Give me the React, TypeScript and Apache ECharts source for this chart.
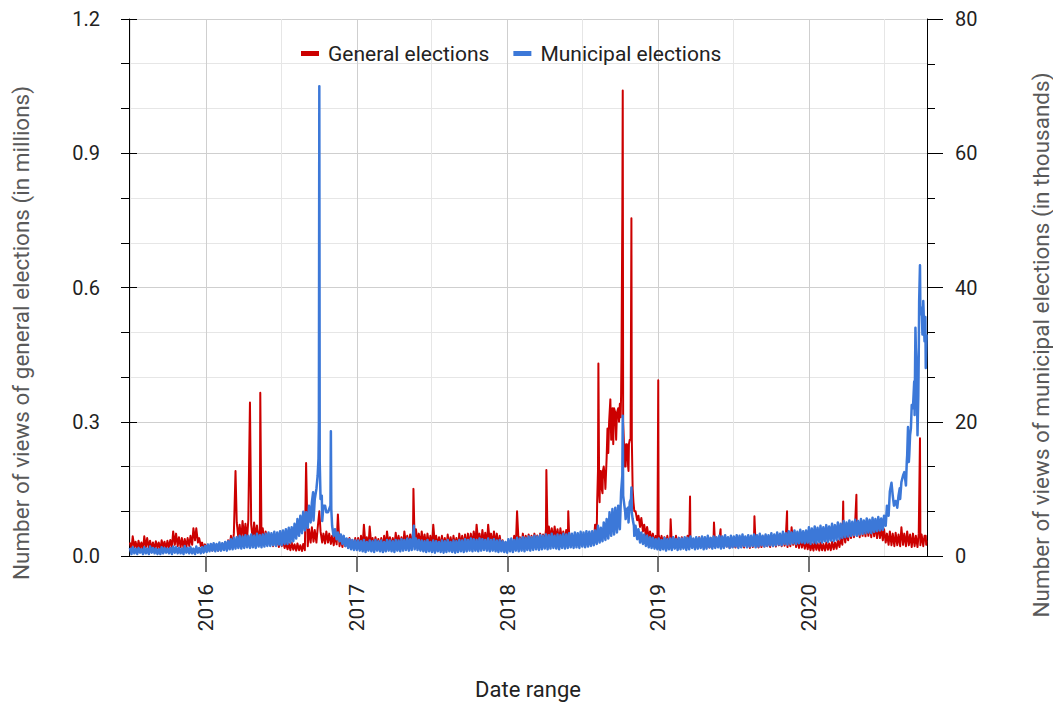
import React, { useEffect, useRef } from 'react';
import * as echarts from 'echarts';

const DAY = 86400000;
const ts = (s: string) => {
  const [y, m, d] = s.split('-').map(Number);
  return Date.UTC(y, m - 1, d);
};

// Weekly band readings: the upper edge is read on Wednesdays, the lower edge on the following Sunday.
const WEEKLY_START = '2015-07-01';
const LOW_OFFSET_DAYS = 4;
const AXIS_MIN = '2015-06-29';
const AXIS_MAX = '2020-10-13';
const YEAR_TICKS = ['2016-01-01', '2017-01-01', '2018-01-01', '2019-01-01', '2020-01-01'];
const HALF_YEAR_LINES = ['2015-07-01', '2016-07-01', '2017-07-01', '2018-07-01', '2019-07-01', '2020-07-01'];

// General elections (millions of views): upper edge of the daily band, weekly
const generalTop2015 = [0.03, 0.044, 0.032, 0.034, 0.03, 0.044, 0.04, 0.034, 0.03, 0.033, 0.03, 0.035, 0.032, 0.034, 0.036, 0.055, 0.05, 0.042, 0.04, 0.038, 0.04, 0.045, 0.062, 0.062, 0.04, 0.03, 0.026];
const generalTop2016 = [0.025, 0.022, 0.026, 0.024, 0.022, 0.028, 0.03, 0.035, 0.045, 0.05, 0.075, 0.07, 0.078, 0.072, 0.08, 0.07, 0.075, 0.068, 0.06, 0.062, 0.055, 0.05, 0.045, 0.048, 0.04, 0.042, 0.035, 0.03, 0.028, 0.03, 0.026, 0.028, 0.024, 0.027, 0.045, 0.06, 0.064, 0.058, 0.062, 0.055, 0.05, 0.055, 0.05, 0.045, 0.048, 0.042, 0.04, 0.044, 0.038, 0.04, 0.036, 0.04];
const generalTop2017 = [0.04, 0.045, 0.07, 0.042, 0.066, 0.04, 0.042, 0.038, 0.04, 0.045, 0.055, 0.042, 0.04, 0.052, 0.045, 0.042, 0.055, 0.045, 0.048, 0.055, 0.06, 0.05, 0.055, 0.048, 0.05, 0.045, 0.07, 0.045, 0.042, 0.045, 0.04, 0.048, 0.042, 0.045, 0.04, 0.05, 0.045, 0.048, 0.05, 0.05, 0.055, 0.07, 0.05, 0.058, 0.052, 0.07, 0.05, 0.055, 0.05, 0.045, 0.035, 0.03];
const generalTop2018 = [0.028, 0.03, 0.045, 0.048, 0.042, 0.05, 0.045, 0.048, 0.045, 0.05, 0.046, 0.05, 0.048, 0.06, 0.066, 0.062, 0.066, 0.06, 0.062, 0.055, 0.058, 0.052, 0.048, 0.045, 0.042, 0.045, 0.04, 0.044, 0.042, 0.05, 0.07, 0.19, 0.19, 0.2, 0.22, 0.3, 0.33, 0.32, 0.33, 0.36, 0.25, 0.25, 0.26, 0.15, 0.11, 0.09, 0.085, 0.07, 0.065, 0.055, 0.05, 0.045];
const generalTop2019 = [0.048, 0.045, 0.042, 0.045, 0.04, 0.042, 0.045, 0.04, 0.042, 0.04, 0.045, 0.04, 0.038, 0.04, 0.042, 0.038, 0.04, 0.036, 0.04, 0.038, 0.04, 0.036, 0.04, 0.038, 0.035, 0.038, 0.036, 0.04, 0.042, 0.038, 0.04, 0.036, 0.042, 0.04, 0.038, 0.042, 0.04, 0.045, 0.04, 0.045, 0.042, 0.05, 0.045, 0.048, 0.042, 0.05, 0.064, 0.045, 0.04, 0.042, 0.036, 0.035];
const generalTop2020 = [0.03, 0.028, 0.032, 0.028, 0.03, 0.027, 0.03, 0.028, 0.032, 0.03, 0.035, 0.04, 0.05, 0.055, 0.065, 0.07, 0.075, 0.072, 0.08, 0.075, 0.078, 0.072, 0.075, 0.07, 0.072, 0.065, 0.06, 0.05, 0.055, 0.05, 0.052, 0.048, 0.064, 0.05, 0.055, 0.048, 0.05, 0.045, 0.05, 0.048, 0.045];

// General elections (millions of views): lower edge of the daily band, weekly
const generalLow2015 = [0.016, 0.02, 0.015, 0.018, 0.014, 0.02, 0.018, 0.016, 0.015, 0.018, 0.015, 0.02, 0.016, 0.018, 0.02, 0.025, 0.022, 0.02, 0.018, 0.02, 0.022, 0.025, 0.035, 0.03, 0.022, 0.016, 0.014];
const generalLow2016 = [0.013, 0.012, 0.014, 0.012, 0.013, 0.015, 0.016, 0.02, 0.025, 0.03, 0.04, 0.035, 0.042, 0.038, 0.04, 0.035, 0.04, 0.032, 0.03, 0.028, 0.03, 0.025, 0.022, 0.024, 0.02, 0.022, 0.018, 0.015, 0.013, 0.014, 0.012, 0.013, 0.011, 0.013, 0.022, 0.03, 0.032, 0.03, 0.034, 0.03, 0.028, 0.03, 0.027, 0.024, 0.026, 0.022, 0.02, 0.022, 0.018, 0.02, 0.017, 0.02];
const generalLow2017 = [0.018, 0.02, 0.022, 0.02, 0.024, 0.019, 0.021, 0.018, 0.02, 0.022, 0.024, 0.02, 0.021, 0.024, 0.022, 0.02, 0.025, 0.022, 0.024, 0.026, 0.028, 0.024, 0.025, 0.022, 0.023, 0.02, 0.026, 0.022, 0.02, 0.022, 0.019, 0.021, 0.02, 0.022, 0.019, 0.023, 0.021, 0.022, 0.024, 0.025, 0.026, 0.03, 0.025, 0.028, 0.025, 0.03, 0.024, 0.026, 0.022, 0.02, 0.018, 0.016];
const generalLow2018 = [0.016, 0.018, 0.022, 0.025, 0.022, 0.025, 0.023, 0.025, 0.024, 0.026, 0.025, 0.027, 0.028, 0.035, 0.038, 0.036, 0.035, 0.032, 0.033, 0.03, 0.03, 0.028, 0.027, 0.026, 0.025, 0.026, 0.024, 0.026, 0.025, 0.03, 0.05, 0.12, 0.14, 0.15, 0.17, 0.22, 0.24, 0.25, 0.26, 0.3, 0.2, 0.19, 0.2, 0.1, 0.08, 0.065, 0.055, 0.045, 0.04, 0.035, 0.03, 0.028];
const generalLow2019 = [0.028, 0.026, 0.025, 0.024, 0.022, 0.024, 0.025, 0.022, 0.023, 0.022, 0.024, 0.021, 0.02, 0.022, 0.021, 0.02, 0.022, 0.019, 0.021, 0.02, 0.021, 0.019, 0.02, 0.021, 0.018, 0.02, 0.019, 0.021, 0.02, 0.019, 0.021, 0.018, 0.02, 0.021, 0.019, 0.02, 0.021, 0.022, 0.02, 0.022, 0.021, 0.024, 0.022, 0.023, 0.02, 0.022, 0.025, 0.02, 0.018, 0.019, 0.016, 0.015];
const generalLow2020 = [0.013, 0.012, 0.014, 0.012, 0.013, 0.012, 0.014, 0.013, 0.015, 0.016, 0.02, 0.025, 0.03, 0.035, 0.04, 0.042, 0.045, 0.042, 0.045, 0.044, 0.045, 0.042, 0.044, 0.04, 0.04, 0.035, 0.03, 0.025, 0.024, 0.022, 0.024, 0.022, 0.025, 0.022, 0.024, 0.02, 0.022, 0.02, 0.024, 0.022, 0.025];

// General elections, daily peaks (millions of views)
const generalPeaks: [string, number][] = [
  ['2016-03-13', 0.19], ['2016-04-17', 0.343], ['2016-05-12', 0.365], ['2016-08-31', 0.208],
  ['2016-10-02', 0.1], ['2016-11-16', 0.093], ['2017-05-18', 0.15], ['2018-01-24', 0.1],
  ['2018-04-05', 0.192], ['2018-05-28', 0.1],
  ['2018-08-03', 0.07], ['2018-08-06', 0.12], ['2018-08-09', 0.43], ['2018-08-11', 0.14],
  ['2018-08-13', 0.19], ['2018-08-17', 0.15], ['2018-08-20', 0.19], ['2018-08-25', 0.17],
  ['2018-08-31', 0.285], ['2018-09-02', 0.23], ['2018-09-04', 0.3], ['2018-09-07', 0.35],
  ['2018-09-09', 0.26], ['2018-09-11', 0.32], ['2018-09-14', 0.25], ['2018-09-16', 0.33],
  ['2018-09-21', 0.26], ['2018-09-23', 0.32], ['2018-09-28', 0.3], ['2018-09-30', 0.34],
  ['2018-10-02', 0.31], ['2018-10-04', 0.45], ['2018-10-06', 0.77], ['2018-10-07', 1.04],
  ['2018-10-08', 0.3], ['2018-10-12', 0.2], ['2018-10-15', 0.25], ['2018-10-20', 0.2],
  ['2018-10-22', 0.25], ['2018-10-26', 0.26], ['2018-10-28', 0.755], ['2018-10-29', 0.26],
  ['2018-11-02', 0.12], ['2018-11-07', 0.1],
  ['2019-01-01', 0.393], ['2019-01-31', 0.082], ['2019-03-19', 0.133], ['2019-05-16', 0.075],
  ['2019-06-01', 0.06], ['2019-08-22', 0.089], ['2019-11-09', 0.1], ['2020-03-24', 0.122],
  ['2020-04-25', 0.137], ['2020-09-26', 0.263], ['2020-10-10', 0.045], ['2020-10-12', 0.035],
];

// Municipal elections (thousands of views): upper edge of the daily band, weekly
const municipalTop2015 = [1.2, 1.3, 1.1, 1.2, 1.0, 1.3, 1.1, 1.4, 1.2, 1.1, 1.0, 1.3, 1.2, 1.1, 1.2, 1.4, 1.3, 1.2, 1.1, 1.5, 1.2, 1.3, 1.1, 1.4, 1.2, 1.3, 1.5];
const municipalTop2016 = [1.7, 1.8, 1.9, 1.8, 2.0, 1.9, 2.1, 2.2, 2.5, 2.7, 2.8, 3.0, 2.9, 3.1, 3.0, 3.2, 3.0, 3.3, 3.1, 3.2, 3.3, 3.5, 3.4, 3.6, 3.5, 3.7, 3.8, 4.0, 4.2, 4.3, 4.8, 5.5, 6.0, 6.6, 6.5, 7.5, 8.0, 8.5, 12.0, 8.5, 7.5, 6.5, 7.0, 4.5, 4.0, 3.5, 3.2, 3.0, 2.6, 2.5, 2.4, 2.3];
const municipalTop2017 = [2.3, 2.2, 2.4, 2.1, 2.3, 2.2, 2.4, 2.2, 2.3, 2.1, 2.4, 2.3, 2.2, 2.4, 2.3, 2.5, 2.4, 2.6, 2.5, 3.0, 2.6, 2.4, 2.3, 2.2, 2.4, 2.1, 2.3, 2.2, 2.1, 2.3, 2.2, 2.4, 2.1, 2.3, 2.2, 2.4, 2.3, 2.5, 2.4, 2.6, 2.5, 2.4, 2.6, 2.5, 2.4, 2.6, 2.4, 2.5, 2.3, 2.4, 2.2, 2.1];
const municipalTop2018 = [2.5, 2.6, 2.4, 2.7, 2.6, 2.8, 2.7, 2.9, 2.8, 3.0, 2.9, 3.1, 3.0, 3.2, 3.1, 3.3, 3.0, 3.2, 3.1, 3.3, 3.2, 3.4, 3.3, 3.5, 3.4, 3.6, 3.5, 3.7, 3.6, 3.7, 3.8, 4.5, 4.2, 5.0, 5.5, 6.5, 7.0, 7.2, 7.5, 9.5, 8.0, 7.0, 8.0, 5.5, 4.5, 4.0, 3.5, 3.2, 3.0, 2.8, 2.7, 2.5];
const municipalTop2019 = [2.6, 2.4, 2.7, 2.5, 2.6, 2.8, 2.5, 2.7, 2.6, 2.8, 2.7, 2.9, 2.6, 2.8, 2.7, 2.9, 2.8, 3.0, 2.7, 2.9, 2.8, 3.0, 2.9, 3.1, 2.8, 3.0, 2.9, 3.1, 3.0, 3.2, 2.9, 3.1, 3.0, 3.2, 3.1, 3.3, 3.0, 3.2, 3.1, 3.4, 3.2, 3.5, 3.3, 3.6, 3.4, 3.7, 3.5, 3.8, 3.6, 3.9, 3.7, 3.8];
const municipalTop2020 = [4.3, 4.1, 4.4, 4.2, 4.5, 4.3, 4.6, 4.4, 4.8, 4.6, 5.0, 4.8, 5.2, 5.0, 5.3, 5.1, 5.4, 5.2, 5.5, 5.3, 5.6, 5.4, 5.7, 5.5, 5.8, 5.6, 6.0, 7.5, 9.6, 9.0, 8.2, 9.0, 11.0, 12.5, 15.0, 18, 22, 31, 30, 37, 32];

// Municipal elections (thousands of views): lower edge of the daily band, weekly
const municipalLow2015 = [0.3, 0.4, 0.3, 0.5, 0.3, 0.4, 0.3, 0.5, 0.4, 0.3, 0.3, 0.4, 0.5, 0.4, 0.3, 0.5, 0.4, 0.4, 0.3, 0.5, 0.4, 0.4, 0.3, 0.5, 0.4, 0.5, 0.6];
const municipalLow2016 = [0.7, 0.8, 0.7, 0.8, 0.8, 0.9, 0.8, 1.0, 1.0, 1.1, 1.2, 1.1, 1.2, 1.3, 1.2, 1.3, 1.2, 1.4, 1.3, 1.4, 1.5, 1.5, 1.6, 1.5, 1.7, 1.6, 1.8, 1.8, 2.0, 2.2, 2.6, 3.0, 3.4, 3.8, 4.2, 5.0, 5.3, 5.6, 6.0, 5.2, 4.8, 4.5, 4.3, 3.0, 2.5, 2.2, 1.8, 1.5, 1.2, 1.0, 0.9, 0.9];
const municipalLow2017 = [0.8, 0.7, 0.6, 0.8, 0.7, 0.6, 0.8, 0.7, 0.6, 0.7, 0.8, 0.7, 0.6, 0.8, 0.7, 0.8, 0.9, 0.8, 0.9, 1.0, 0.9, 0.8, 0.7, 0.6, 0.7, 0.6, 0.5, 0.7, 0.6, 0.5, 0.6, 0.7, 0.6, 0.5, 0.6, 0.7, 0.6, 0.7, 0.8, 0.7, 0.8, 0.7, 0.8, 0.9, 0.8, 0.7, 0.8, 0.7, 0.6, 0.7, 0.6, 0.5];
const municipalLow2018 = [0.7, 0.6, 0.8, 0.7, 0.8, 0.7, 0.9, 0.8, 0.9, 1.0, 0.9, 1.0, 1.1, 1.0, 1.1, 1.2, 1.1, 1.0, 1.2, 1.1, 1.2, 1.3, 1.2, 1.3, 1.2, 1.4, 1.3, 1.4, 1.5, 1.6, 1.8, 2.0, 2.2, 2.4, 2.6, 3.0, 3.2, 3.5, 4.0, 5.5, 5.5, 5.0, 5.5, 3.0, 2.5, 2.0, 1.8, 1.5, 1.3, 1.2, 1.1, 1.0];
const municipalLow2019 = [0.9, 1.0, 0.8, 1.0, 0.9, 1.1, 0.9, 1.0, 1.1, 0.9, 1.0, 1.2, 1.0, 1.1, 1.2, 1.0, 1.1, 1.3, 1.1, 1.2, 1.3, 1.1, 1.2, 1.4, 1.2, 1.3, 1.4, 1.2, 1.3, 1.5, 1.3, 1.4, 1.5, 1.3, 1.4, 1.6, 1.4, 1.5, 1.6, 1.5, 1.6, 1.7, 1.6, 1.8, 1.7, 1.8, 1.9, 1.8, 1.9, 2.0, 1.9, 2.0];
const municipalLow2020 = [1.8, 2.0, 1.9, 2.1, 2.0, 2.2, 2.1, 2.3, 2.2, 2.4, 2.5, 2.7, 2.8, 2.9, 3.0, 3.1, 3.0, 3.2, 3.3, 3.4, 3.5, 3.4, 3.6, 3.7, 3.8, 3.9, 4.5, 6.0, 8.5, 7.5, 7.0, 8.5, 10, 10.5, 14, 17, 21, 18, 36, 31, 28];

// Municipal elections, daily peaks (thousands of views)
const municipalPeaks: [string, number][] = [
  ['2016-09-17', 9.5], ['2016-09-25', 10], ['2016-09-30', 14.5], ['2016-10-01', 20],
  ['2016-10-02', 70], ['2016-10-03', 14], ['2016-10-08', 9], ['2016-10-16', 7.5],
  ['2016-10-23', 6.5], ['2016-10-29', 7.5], ['2016-10-30', 18.6], ['2016-10-31', 7],
  ['2016-11-05', 3.2], ['2017-05-19', 4.5],
  ['2018-10-04', 9.5], ['2018-10-06', 12], ['2018-10-07', 20.9], ['2018-10-08', 9],
  ['2018-10-13', 6.5], ['2018-10-20', 7.2], ['2018-10-27', 8.5], ['2018-10-28', 10.2],
  ['2018-10-29', 6.5], ['2018-11-03', 4.5],
  ['2020-07-19', 10.9], ['2020-07-25', 7.5], ['2020-08-02', 7.2], ['2020-08-08', 10.1],
  ['2020-08-16', 12], ['2020-08-22', 11], ['2020-08-25', 14], ['2020-08-28', 19.2],
  ['2020-08-31', 15], ['2020-09-04', 19], ['2020-09-06', 22.5], ['2020-09-12', 26],
  ['2020-09-15', 34], ['2020-09-18', 28], ['2020-09-20', 18], ['2020-09-22', 24],
  ['2020-09-24', 38], ['2020-09-26', 43.3], ['2020-09-28', 36], ['2020-10-02', 33],
  ['2020-10-04', 38], ['2020-10-09', 35.6], ['2020-10-10', 28], ['2020-10-12', 33],
];

const generalTop = [...generalTop2015, ...generalTop2016, ...generalTop2017, ...generalTop2018, ...generalTop2019, ...generalTop2020];
const generalLow = [...generalLow2015, ...generalLow2016, ...generalLow2017, ...generalLow2018, ...generalLow2019, ...generalLow2020];
const municipalTop = [...municipalTop2015, ...municipalTop2016, ...municipalTop2017, ...municipalTop2018, ...municipalTop2019, ...municipalTop2020];
const municipalLow = [...municipalLow2015, ...municipalLow2016, ...municipalLow2017, ...municipalLow2018, ...municipalLow2019, ...municipalLow2020];

const build = (top: number[], low: number[], peaks: [string, number][]) => {
  const t0 = ts(WEEKLY_START);
  const peakPts: [number, number][] = peaks.map(([d, v]) => [ts(d), v]);
  const peakSet = new Set(peakPts.map((p) => p[0]));
  const pts: [number, number][] = [];
  top.forEach((v, i) => pts.push([t0 + i * 7 * DAY, v]));
  low.forEach((v, i) => pts.push([t0 + (i * 7 + LOW_OFFSET_DAYS) * DAY, v]));
  const kept = pts.filter((p) => !peakSet.has(p[0]));
  return kept.concat(peakPts).sort((a, b) => a[0] - b[0]);
};

const FONT = 'Roboto, "Noto Sans", sans-serif';

export default function App() {
  const ref = useRef<HTMLDivElement>(null);
  useEffect(() => {
    if (!ref.current) return;
    const chart = echarts.init(ref.current, undefined, { renderer: 'svg' });
    const years = YEAR_TICKS.map(ts);
    const halves = HALF_YEAR_LINES.map(ts);
    chart.setOption({
      animation: false,
      textStyle: { fontFamily: FONT },
      grid: { left: 129, right: 126, top: 19, bottom: 143, containLabel: false },
      legend: {
        left: 296,
        top: 38,
        icon: 'rect',
        itemWidth: 18,
        itemHeight: 5,
        itemGap: 24,
        textStyle: { fontSize: 21, color: '#222', fontFamily: FONT, padding: [0, 0, 0, 4], lineHeight: 21 },
        data: ['General elections', 'Municipal elections'],
      },
      xAxis: [
        {
          type: 'value',
          min: ts(AXIS_MIN),
          max: ts(AXIS_MAX),
          name: 'Date range',
          nameLocation: 'middle',
          nameGap: 122,
          nameTextStyle: { fontSize: 22, color: '#222', fontFamily: FONT },
          axisLine: { lineStyle: { color: '#000', width: 1 } },
          axisTick: { show: true, customValues: years, length: 16, lineStyle: { color: '#444', width: 1.5 } },
          axisLabel: {
            customValues: years,
            rotate: 90,
            margin: 28,
            fontSize: 21,
            color: '#222',
            fontFamily: FONT,
            formatter: (v: number) => String(new Date(v).getUTCFullYear()),
          },
          splitLine: { show: true, lineStyle: { color: '#cfcfcf', width: 1 } },
        },
        {
          type: 'value',
          min: ts(AXIS_MIN),
          max: ts(AXIS_MAX),
          position: 'bottom',
          axisLine: { show: false },
          axisTick: { show: false, customValues: halves },
          axisLabel: { show: false, customValues: halves },
          splitLine: { show: true, lineStyle: { color: '#e6e6e6', width: 1 } },
        },
      ],
      yAxis: [
        {
          type: 'value',
          position: 'left',
          min: 0,
          max: 1.2,
          interval: 0.3,
          axisLine: { show: true, lineStyle: { color: '#000', width: 1 } },
          axisTick: { show: true, length: 8, lineStyle: { color: '#000' } },
          minorTick: { show: true, splitNumber: 3, length: 8, lineStyle: { color: '#000' } },
          axisLabel: { fontSize: 20, color: '#222', margin: 29, fontFamily: FONT, formatter: (v: number) => v.toFixed(1) },
          splitLine: { show: true, lineStyle: { color: '#cfcfcf' } },
          minorSplitLine: { show: true, lineStyle: { color: '#e6e6e6' } },
        },
        {
          type: 'value',
          position: 'right',
          min: 0,
          max: 80,
          interval: 20,
          axisLine: { show: true, lineStyle: { color: '#000', width: 1 } },
          axisTick: { show: true, length: 16, lineStyle: { color: '#000' } },
          minorTick: { show: true, splitNumber: 3, length: 8, lineStyle: { color: '#000' } },
          axisLabel: { fontSize: 20, color: '#222', margin: 28, fontFamily: FONT },
          splitLine: { show: false },
        },
        {
          type: 'value',
          position: 'left',
          min: 0,
          max: 1.2,
          interval: 0.3,
          axisLine: { show: false },
          axisTick: { show: true, inside: true, length: 8, lineStyle: { color: '#000' } },
          axisLabel: { show: false },
          splitLine: { show: false },
        },
      ],
      graphic: [
        {
          type: 'text',
          x: 21,
          y: 333,
          rotation: Math.PI / 2,
          style: {
            text: 'Number of views of general elections (in millions)',
            fontSize: 22.5,
            fill: '#595959',
            fontFamily: FONT,
            align: 'center',
            verticalAlign: 'middle',
          },
        },
        {
          type: 'text',
          x: 1041,
          y: 345,
          rotation: Math.PI / 2,
          style: {
            text: 'Number of views of municipal elections (in thousands)',
            fontSize: 22.5,
            fill: '#595959',
            fontFamily: FONT,
            align: 'center',
            verticalAlign: 'middle',
          },
        },
      ],
      series: [
        {
          name: 'General elections',
          type: 'line',
          xAxisIndex: 0,
          yAxisIndex: 0,
          showSymbol: false,
          symbol: 'none',
          color: '#cc0000',
          lineStyle: { color: '#cc0000', width: 2, join: 'round' },
          data: build(generalTop, generalLow, generalPeaks),
        },
        {
          name: 'Municipal elections',
          type: 'line',
          xAxisIndex: 0,
          yAxisIndex: 1,
          showSymbol: false,
          symbol: 'none',
          color: '#3c78d8',
          lineStyle: { color: '#3c78d8', width: 2.5, join: 'round' },
          data: build(municipalTop, municipalLow, municipalPeaks),
        },
      ],
    });
    return () => chart.dispose();
  }, []);
  return (
    <div
      ref={ref}
      style={{ position: 'absolute', left: 0, top: 0, width: 1053, height: 705, background: '#fff' }}
    />
  );
}
